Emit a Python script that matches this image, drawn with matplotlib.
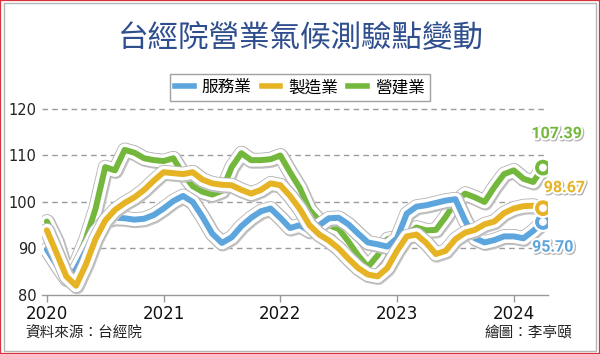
import matplotlib
matplotlib.use("Agg")
import matplotlib.pyplot as plt
import matplotlib.patheffects as pe
from matplotlib.lines import Line2D
from matplotlib.patches import Rectangle

plt.rcParams['font.family'] = ['Noto Sans CJK TC', 'DejaVu Sans']

# monthly index points, Jan 2020 .. Apr 2024
years = ["2020", "2021", "2022", "2023", "2024"]

services = [89.8, 86.5, 83.5, 85.5, 89.5, 93.5, 96.0, 96.6, 96.5, 96.2, 96.4, 97.2,
            98.6, 100.2, 101.3, 100.0, 96.8, 93.2, 91.2, 92.4, 94.8, 96.6, 98.0, 98.6,
            96.6, 94.4, 95.0, 93.8, 95.0, 96.5, 96.6, 95.2, 93.2, 91.3, 90.9, 90.4,
            92.2, 97.5, 99.0, 99.3, 99.8, 100.3, 100.6, 96.0, 92.2, 91.3, 91.8, 92.6,
            92.6, 92.2, 93.8, 95.70]
manufacturing = [93.9, 89.0, 84.0, 82.0, 86.5, 92.0, 96.0, 98.3, 99.8, 101.0, 102.6, 104.6,
                 106.4, 106.2, 106.0, 106.4, 104.8, 104.0, 103.7, 103.6, 102.6, 101.8, 102.6, 104.0,
                 103.6, 101.3, 98.5, 95.0, 93.0, 91.7, 90.0, 87.8, 85.8, 84.4, 84.0, 85.8,
                 89.5, 92.6, 93.0, 91.2, 88.8, 89.5, 92.0, 93.4, 94.0, 95.2, 95.8, 97.6,
                 98.6, 99.1, 99.2, 98.67]
construction = [95.8, 91.5, 84.8, 86.8, 92.0, 98.5, 107.5, 106.8, 111.2, 110.6, 109.4, 109.0,
                108.8, 109.4, 106.0, 103.4, 102.2, 101.6, 102.4, 107.5, 110.5, 109.0, 109.0, 109.2,
                110.0, 106.4, 103.0, 98.3, 96.0, 95.0, 94.2, 91.5, 88.5, 86.0, 88.5, 92.0,
                92.4, 93.0, 94.5, 93.9, 94.0, 96.8, 100.0, 101.8, 101.0, 100.0, 103.2, 106.0,
                106.8, 105.0, 104.3, 107.39]

names = ["服務業", "製造業", "營建業"]
c_blue = "#5da5dd"
c_yel = "#e5b324"
c_grn = "#73b83c"

months = list(range(len(services)))

fig = plt.figure(figsize=(6, 3.54), dpi=100)
ax = fig.add_axes([0.07, 0.1667, 0.843, 0.5517])

halo = [pe.Stroke(linewidth=11.2, foreground="#c4c4c4", offset=(0.6, -0.6)),
        pe.Stroke(linewidth=10.6, foreground="#b3b3b3"),
        pe.Stroke(linewidth=9.4, foreground="white"),
        pe.Normal()]

series = [(construction, c_grn, 2), (services, c_blue, 3), (manufacturing, c_yel, 4)]
for vals, col, z in series:
    ax.plot(months, vals, color=col, lw=4.3, solid_joinstyle="round",
            solid_capstyle="round", zorder=z, path_effects=halo)
    ax.plot(months[-1], vals[-1], "o", ms=8.5, mfc="white", mec=col, mew=2.8,
            zorder=z + 0.5,
            path_effects=[pe.Stroke(linewidth=6, foreground="white"), pe.Normal()])

# end labels
lab_fx = [pe.Stroke(linewidth=3.2, foreground="#b0b0b0", offset=(0.7, -0.7)),
          pe.Stroke(linewidth=3, foreground="white"), pe.Normal()]
for vals, col, dx, dy in [(construction, c_grn, 1.4, 7.3),
                          (manufacturing, c_yel, 2.2, 4.4),
                          (services, c_blue, 1.0, -5.4)]:
    ax.text(months[-1] + dx, vals[-1] + dy, f"{vals[-1]:.2f}", color=col,
            fontsize=11.5, fontweight="bold", family="Roboto",
            ha="center", va="center", path_effects=lab_fx, zorder=6, clip_on=False)

ax.set_xlim(-0.5, 51.5)
ax.set_ylim(80, 122)
ax.set_yticks([80, 90, 100, 110, 120])
ax.set_xticks([0, 12, 24, 36, 48])
ax.set_xticklabels(years, fontsize=12, family="DejaVu Sans")
ax.tick_params(axis="y", length=0, pad=4, labelsize=10.5, labelcolor="#222222")
ax.tick_params(axis="x", length=5, width=1, color="#999999", pad=2, labelcolor="#111111")
for lbl in ax.get_yticklabels():
    lbl.set_family("DejaVu Sans")

for v in [90, 100, 110, 120]:
    ax.axhline(v, color="#9c9c9c", lw=1, ls=(0, (4, 3)), zorder=1)

for s in ["left", "right", "top"]:
    ax.spines[s].set_visible(False)
ax.spines["bottom"].set_color("#999999")
ax.spines["bottom"].set_linewidth(1)

fig.text(0.502, 0.893, "台經院營業氣候測驗點變動", ha="center", va="center",
         fontsize=22, color="#2f4e8e", fontweight="medium")

handles = [Line2D([0], [0], color=c, lw=4) for c in [c_blue, c_yel, c_grn]]
leg = fig.legend(handles, names, loc="center", bbox_to_anchor=(0.5, 0.752),
                 ncol=3, fontsize=12, frameon=True, fancybox=False,
                 handlelength=1.1, handletextpad=0.5, columnspacing=0.6,
                 borderpad=0.3, borderaxespad=0)
leg.get_frame().set_edgecolor("#8a8a8a")
leg.get_frame().set_linewidth(1)

fig.text(0.042, 0.057, "資料來源：台經院", ha="left", va="center", fontsize=10.5, color="#222222")
fig.text(0.953, 0.06, "繪圖：李亭頤", ha="right", va="center", fontsize=10.5, color="#222222")

fig.patches.append(Rectangle((0.006, 0.009), 0.988, 0.982, transform=fig.transFigure,
                             fill=False, edgecolor="#b5b5b5", lw=1))
fig.patches.append(Rectangle((0.0, 0.0), 1.0, 1.0, transform=fig.transFigure,
                             fill=False, edgecolor="#d8323a", lw=1.6))

fig.savefig("out.png", dpi=100)
